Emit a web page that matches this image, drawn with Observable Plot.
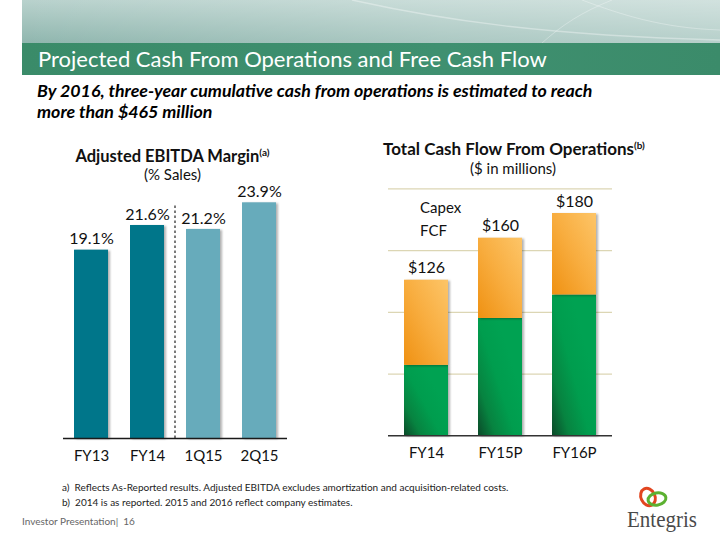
<!DOCTYPE html>
<html>
<head>
<meta charset="utf-8">
<script src="https://cdn.jsdelivr.net/npm/d3@7"></script>
<script src="https://cdn.jsdelivr.net/npm/@observablehq/plot@0.6"></script>
<style>
  html, body { margin: 0; padding: 0; background: #fff; }
  #page { position: relative; width: 720px; height: 540px; overflow: hidden; font-family: Lato, "Open Sans", sans-serif; color: #111; }
  .abs { position: absolute; white-space: nowrap; }
  #bannerTop { left: 22px; top: 0; width: 698px; height: 43px;
    background: linear-gradient(90deg, rgba(255,255,255,0) 0%, rgba(255,255,255,0.25) 60%, rgba(255,255,255,0.35) 100%),
                linear-gradient(180deg, #b9d2cd 0%, #8fb6ae 100%); }
  #band { left: 22px; top: 43px; width: 698px; height: 32px; background: linear-gradient(90deg, #3a8b69 0%, #3f9070 60%, #3b8b6a 100%); }
  #title { left: 38px; top: 43px; height: 32px; line-height: 32px; font-size: 22px; color: #fff; }
  .subtitle { left: 37px; font-size: 17.8px; line-height: 21px; height: 21px; font-weight: 700; font-style: italic; color: #000; }
  .ctitle { font-size: 16.5px; font-weight: 700; text-align: center; line-height: 17px; height: 17px; }
  .ctitle sup { font-size: 10px; vertical-align: 6px; line-height: 0; }
  .csub { font-size: 15px; text-align: center; line-height: 16px; height: 16px; }
  .foot { font-size: 10px; color: #222; line-height: 12px; }
  #footer { left: 22px; top: 515px; font-size: 10px; color: #666; line-height: 12px; }
  .legend { font-size: 15px; line-height: 17px; }
</style>
</head>
<body>
<div id="page">
  <div id="bannerTop" class="abs"></div>
  <svg class="abs" style="left:22px;top:0" width="698" height="43">
    <path d="M330,0 C420,20 520,35 698,40" stroke="rgba(255,255,255,0.35)" stroke-width="1.5" fill="none"/>
    <path d="M560,0 C600,15 640,28 698,30" stroke="rgba(255,255,255,0.3)" stroke-width="1" fill="none"/>
    <path d="M520,43 C540,25 560,12 590,0" stroke="rgba(255,255,255,0.3)" stroke-width="1" fill="none"/>
  </svg>
  <div id="band" class="abs"></div>
  <div id="title" class="abs">Projected Cash From Operations and Free Cash Flow</div>
  <div class="abs subtitle" style="top:80px;">By 2016, three-year cumulative cash from operations is estimated to reach</div>
  <div class="abs subtitle" style="top:101px;">more than $465 million</div>

  <div class="abs ctitle" style="left:60px;top:148px;width:225px;">Adjusted EBITDA Margin<sup>(a)</sup></div>
  <div class="abs csub" style="left:60px;top:166px;width:225px;">(% Sales)</div>

  <div class="abs ctitle" style="left:380px;top:140px;width:268px;font-size:17px;">Total Cash Flow From Operations<sup>(b)</sup></div>
  <div class="abs csub" style="left:380px;top:160px;width:266px;">($ in millions)</div>

  <div id="left" class="abs" style="left:0;top:170px;"></div>
  <div id="right" class="abs" style="left:360px;top:170px;"></div>

  <div class="abs legend" style="left:420px;top:199px;">Capex</div>
  <div class="abs legend" style="left:420px;top:222px;">FCF</div>

  <div class="abs foot" style="left:62px;top:481px;">a)&nbsp;&nbsp;Reflects As-Reported results. Adjusted EBITDA excludes amortization and acquisition-related costs.</div>
  <div class="abs foot" style="left:62px;top:496px;">b)&nbsp;&nbsp;2014 is as reported. 2015 and 2016 reflect company estimates.</div>
  <div id="footer" class="abs">Investor Presentation|&nbsp;&nbsp;16</div>

  <svg class="abs" style="left:615px;top:482px" width="100" height="55">
    <ellipse cx="33" cy="15" rx="7" ry="9" transform="rotate(-25 33 15)" fill="none" stroke="#e2451f" stroke-width="3"/>
    <ellipse cx="42" cy="17" rx="9" ry="6" transform="rotate(-10 42 17)" fill="none" stroke="#5cb131" stroke-width="3"/>
    <text x="12" y="45" font-family="Liberation Serif, DejaVu Serif, serif" font-size="24" fill="#4a4a4a" textLength="70" lengthAdjust="spacingAndGlyphs">Entegris</text>
  </svg>
</div>

<script>
// ---------- data ----------
const ebitdaCategories = ["FY13", "FY14", "1Q15", "2Q15"];
const ebitdaValues = [19.1, 21.6, 21.2, 23.9];
const ebitdaLabels = ["19.1%", "21.6%", "21.2%", "23.9%"];
const ebitdaPeriodType = ["Annual", "Annual", "Quarter", "Quarter"];

const cfoCategories = ["FY14", "FY15P", "FY16P"];
const fcfValues = [57, 95, 114];
const capexValues = [69, 65, 66];
const cfoTotalLabels = ["$126", "$160", "$180"];
const cfoSeries = ["FCF", "Capex"];
const cfoGridTicks = [50, 100, 150, 200];

// ---------- left chart ----------
const ebitda = ebitdaCategories.map((c, i) => ({cat: c, value: ebitdaValues[i], label: ebitdaLabels[i], type: ebitdaPeriodType[i]}));

const leftSvg = Plot.plot({
  width: 340, height: 300,
  marginLeft: 63, marginRight: 53, marginTop: 11.6, marginBottom: 32,
  style: {fontFamily: "Lato, 'Open Sans', sans-serif", fontSize: "15px", color: "#111", background: "transparent", overflow: "visible"},
  x: {domain: ebitdaCategories, paddingInner: 0.39, paddingOuter: 0.195, tickSize: 0, tickPadding: 12, label: null},
  y: {domain: [0, 26], axis: null},
  color: {domain: ["Annual", "Quarter"], range: ["#00768a", "#67abbb"]},
  marks: [
    Plot.barY(ebitda, {x: "cat", y: "value", fill: "type"}),
    Plot.ruleX(["FY14"], {dx: 27.5, y1: 0, y2: 23.6, stroke: "#7a7a7a", strokeWidth: 2, strokeDasharray: "2.5,2.5"}),
    Plot.ruleY([0], {stroke: "#1a1a1a", strokeWidth: 1.5}),
    Plot.text(ebitda, {x: "cat", y: "value", text: "label", dy: -11, fontSize: 16, fill: "#111"})
  ]
});
d3.select(leftSvg).selectAll("rect").style("filter", "drop-shadow(2px 1px 1.2px rgba(0,0,0,0.3))");
document.getElementById("left").appendChild(leftSvg);

// ---------- right chart ----------
const cfoRows = [];
cfoCategories.forEach((c, i) => {
  cfoRows.push({cat: c, series: "FCF", value: fcfValues[i]});
  cfoRows.push({cat: c, series: "Capex", value: capexValues[i]});
});
const cfoTotals = cfoCategories.map((c, i) => ({cat: c, total: fcfValues[i] + capexValues[i], label: cfoTotalLabels[i]}));

const rightSvg = Plot.plot({
  width: 300, height: 300,
  marginLeft: 28, marginRight: 48, marginTop: 18.3, marginBottom: 34.7,
  style: {fontFamily: "Lato, 'Open Sans', sans-serif", fontSize: "15px", color: "#111", background: "transparent", overflow: "visible"},
  x: {domain: cfoCategories, paddingInner: 0.41, paddingOuter: 0.205, tickSize: 0, tickPadding: 12, label: null},
  y: {domain: [0, 200], axis: null},
  color: {domain: cfoSeries, range: ["url(#gradFCF)", "url(#gradCapex)"]},
  marks: [
    Plot.ruleY(cfoGridTicks, {stroke: "#dcd6b4", strokeWidth: 1.2}),
    Plot.barY(cfoRows, {x: "cat", y: "value", fill: "series"}),
    Plot.ruleY([0], {stroke: "#333", strokeWidth: 1.5}),
    Plot.text(cfoTotals, {x: "cat", y: "total", text: "label", dy: -12, fontSize: 16, fill: "#111"})
  ]
});
d3.select(rightSvg).insert("defs", ":first-child").html(`
  <linearGradient id="gradFCF" x1="0" y1="1" x2="0.75" y2="0.35">
    <stop offset="0" stop-color="#0b4a29"/>
    <stop offset="0.3" stop-color="#078340"/>
    <stop offset="0.65" stop-color="#009d4e"/>
    <stop offset="1" stop-color="#00a252"/>
  </linearGradient>
  <linearGradient id="gradCapex" x1="0" y1="1" x2="1" y2="0">
    <stop offset="0" stop-color="#ef9112"/>
    <stop offset="0.5" stop-color="#f8ad3f"/>
    <stop offset="1" stop-color="#fdc568"/>
  </linearGradient>`);
d3.select(rightSvg).selectAll("rect").style("filter", "drop-shadow(2px 1px 1.2px rgba(0,0,0,0.3))");
document.getElementById("right").appendChild(rightSvg);
</script>
</body>
</html>
